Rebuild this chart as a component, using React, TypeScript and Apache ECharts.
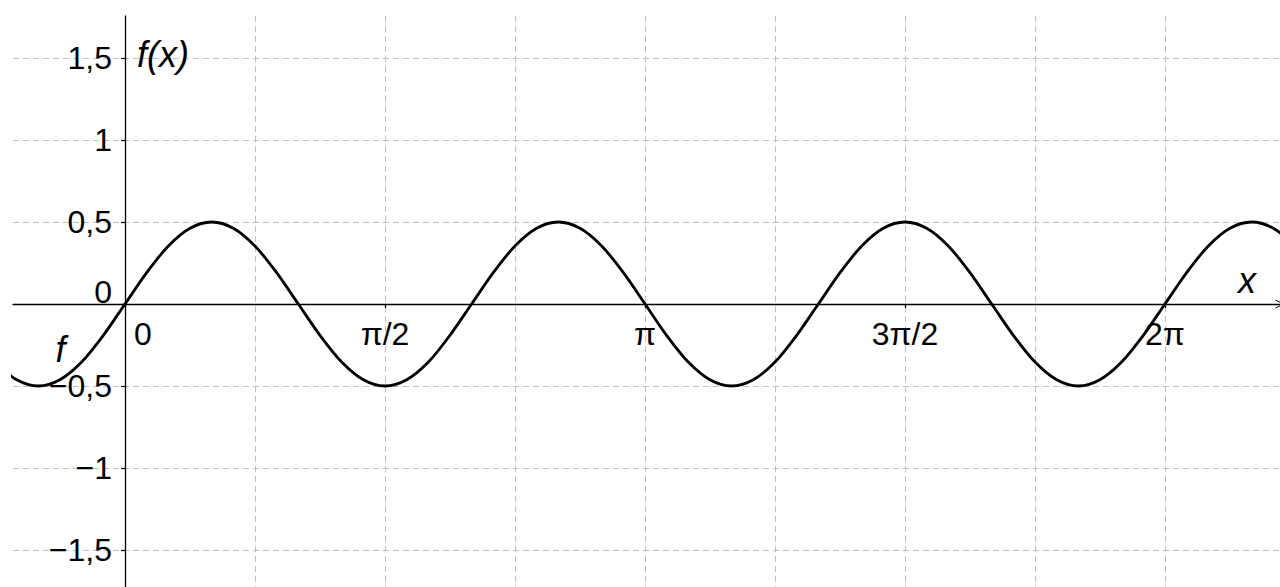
import React, { useEffect, useRef } from "react";
import * as echarts from "echarts";

// Curve samples (x in radians, y = f(x))
const curveX = [
  -0.785, -0.654, -0.524, -0.393, -0.262, -0.131, 0, 0.131, 0.262, 0.393, 0.524, 0.654,
  0.785, 0.916, 1.047, 1.178, 1.309, 1.44, 1.571, 1.702, 1.833, 1.963, 2.094, 2.225,
  2.356, 2.487, 2.618, 2.749, 2.88, 3.011, 3.142, 3.272, 3.403, 3.534, 3.665, 3.796,
  3.927, 4.058, 4.189, 4.32, 4.451, 4.581, 4.712, 4.843, 4.974, 5.105, 5.236, 5.367,
  5.498, 5.629, 5.76, 5.89, 6.021, 6.152, 6.283, 6.414, 6.545, 6.676, 6.807, 6.938, 7.069,
];
const curveY = [
  -0.354, -0.462, -0.5, -0.462, -0.354, -0.191,
  0, 0.191, 0.354, 0.462, 0.5, 0.462, 0.354, 0.191, 0, -0.191, -0.354, -0.462, -0.5, -0.462, -0.354, -0.191,
  0, 0.191, 0.354, 0.462, 0.5, 0.462, 0.354, 0.191, 0, -0.191, -0.354, -0.462, -0.5, -0.462, -0.354, -0.191,
  0, 0.191, 0.354, 0.462, 0.5, 0.462, 0.354, 0.191, 0, -0.191, -0.354, -0.462, -0.5, -0.462, -0.354, -0.191,
  0, 0.191, 0.354, 0.462, 0.5, 0.462, 0.354,
];

// Axes
const xMin = -0.6767;
const xMax = 6.978;
const yMin = -1.7256;
const yMax = 1.7561;
const xGridValues = [0, 0.785398, 1.570796, 2.356194, 3.141593, 3.926991, 4.712389, 5.497787, 6.283185];
const xTickValues = [0, 1.570796, 3.141593, 4.712389, 6.283185];
const xTickLabels = ["0", "π/2", "π", "3π/2", "2π"];
const yTickValues = [-1.5, -1, -0.5, 0, 0.5, 1, 1.5];
const yTickLabels = ["−1,5", "−1", "−0,5", "0", "0,5", "1", "1,5"];
const xAxisName = "x";
const yAxisName = "f(x)";
const curveName = "f";
const curveLabelAt = [-0.39, -0.28];

const FONT = "'Liberation Sans', Arial, sans-serif";
const TICK_FONT = 32;

function labelFor(values: number[], labels: string[], v: number): string {
  for (let i = 0; i < values.length; i++) {
    if (Math.abs(values[i] - v) < 1e-3) return labels[i];
  }
  return "";
}

export default function App() {
  const ref = useRef<HTMLDivElement>(null);
  useEffect(() => {
    if (!ref.current) return;
    const chart = echarts.init(ref.current, undefined, { renderer: "svg" });
    const data = curveX.map((x, i) => [x, curveY[i]]);
    // Plot box (px) and where the axes cross inside it
    const W = 1280, H = 587;
    const gridLeft = 13, gridTop = 16;
    const plotW = W - gridLeft, plotH = H - gridTop;
    const xAxisOffset = -Math.round(((0 - yMin) / (yMax - yMin)) * plotH);
    const yAxisOffset = -Math.round(((0 - xMin) / (xMax - xMin)) * plotW);
    const option: any = {
      animation: false,
      backgroundColor: "#fff",
      textStyle: { fontFamily: FONT },
      grid: {
        left: gridLeft,
        top: gridTop,
        right: 0,
        bottom: 0,
        containLabel: false,
        outerBoundsMode: "none",
      },
      xAxis: [
        {
          type: "value",
          min: xMin,
          max: xMax,
          position: "bottom",
          offset: xAxisOffset,
          name: xAxisName,
          nameLocation: "end",
          nameGap: 0,
          nameTextStyle: {
            fontFamily: FONT,
            fontSize: 36,
            fontStyle: "italic",
            color: "#000",
            align: "right",
            verticalAlign: "bottom",
            lineHeight: 36,
            padding: [0, 24, 6, 0],
          },
          axisLine: {
            show: true,
            onZero: false,
            lineStyle: { color: "#000", width: 1.3 },
            symbol: ["none", "path://M0,10 L5,0 L10,10 L9,10 L5,2 L1,10 Z"],
            symbolSize: [16, 9],
          },
          axisTick: { show: false, customValues: xGridValues },
          axisLabel: {
            show: true,
            customValues: xTickValues,
            margin: 14,
            color: "#000",
            fontFamily: FONT,
            fontSize: TICK_FONT,
            lineHeight: TICK_FONT,
            formatter: (v: number) => {
              const s = labelFor(xTickValues, xTickLabels, v);
              return Math.abs(v) < 1e-6 ? "{z|" + s + "}" : s;
            },
            rich: {
              z: {
                fontFamily: FONT,
                fontSize: TICK_FONT,
                lineHeight: TICK_FONT,
                color: "#000",
                padding: [0, 0, 0, 36],
              },
            },
          },
          splitLine: {
            show: true,
            lineStyle: { color: "#c0c0c0", width: 1, type: [6, 4] },
          },
        },
        {
          type: "value",
          min: xMin,
          max: xMax,
          position: "bottom",
          offset: xAxisOffset,
          axisLine: { show: false, onZero: false },
          axisTick: {
            show: true,
            customValues: xTickValues,
            length: 4,
            lineStyle: { color: "#000", width: 1.3 },
          },
          axisLabel: { show: false },
          splitLine: { show: false },
        },
      ],
      yAxis: [
        {
          type: "value",
          min: yMin,
          max: yMax,
          position: "left",
          offset: yAxisOffset,
          name: yAxisName,
          nameLocation: "end",
          nameGap: 0,
          nameTextStyle: {
            fontFamily: FONT,
            fontSize: 36,
            fontStyle: "italic",
            color: "#000",
            align: "left",
            verticalAlign: "top",
            lineHeight: 36,
            padding: [20, 0, 0, 12],
          },
          axisLine: { show: true, onZero: false, lineStyle: { color: "#000", width: 1.3 } },
          axisTick: {
            show: true,
            customValues: yTickValues,
            length: 4,
            lineStyle: { color: "#000", width: 1.3 },
          },
          axisLabel: {
            show: true,
            customValues: yTickValues,
            margin: 13,
            color: "#000",
            fontFamily: FONT,
            fontSize: TICK_FONT,
            lineHeight: TICK_FONT,
            formatter: (v: number) => {
              const s = labelFor(yTickValues, yTickLabels, v);
              return Math.abs(v) < 1e-6 ? "{z|" + s + "}" : s;
            },
            rich: {
              z: {
                fontFamily: FONT,
                fontSize: TICK_FONT,
                lineHeight: TICK_FONT,
                color: "#000",
                padding: [0, 0, 24, 0],
              },
            },
          },
          splitLine: {
            show: true,
            lineStyle: { color: "#c0c0c0", width: 1, type: [6, 4] },
          },
        },
      ],
      series: [
        {
          name: curveName,
          type: "line",
          xAxisIndex: 0,
          yAxisIndex: 0,
          data,
          showSymbol: false,
          symbol: "none",
          smooth: 0.3,
          clip: true,
          lineStyle: { color: "#000", width: 2.8 },
          markPoint: {
            symbol: "circle",
            symbolSize: 1,
            itemStyle: { color: "rgba(0,0,0,0)" },
            label: {
              show: true,
              position: "inside",
              formatter: curveName,
              fontFamily: FONT,
              fontSize: 36,
              lineHeight: 28,
              fontStyle: "italic",
              color: "#000",
            },
            data: [{ coord: curveLabelAt }],
          },
        },
      ],
    };
    chart.setOption(option);
    return () => chart.dispose();
  }, []);
  return (
    <div
      ref={ref}
      style={{ position: "fixed", left: 0, top: 0, width: 1280, height: 587, background: "#fff" }}
    />
  );
}
